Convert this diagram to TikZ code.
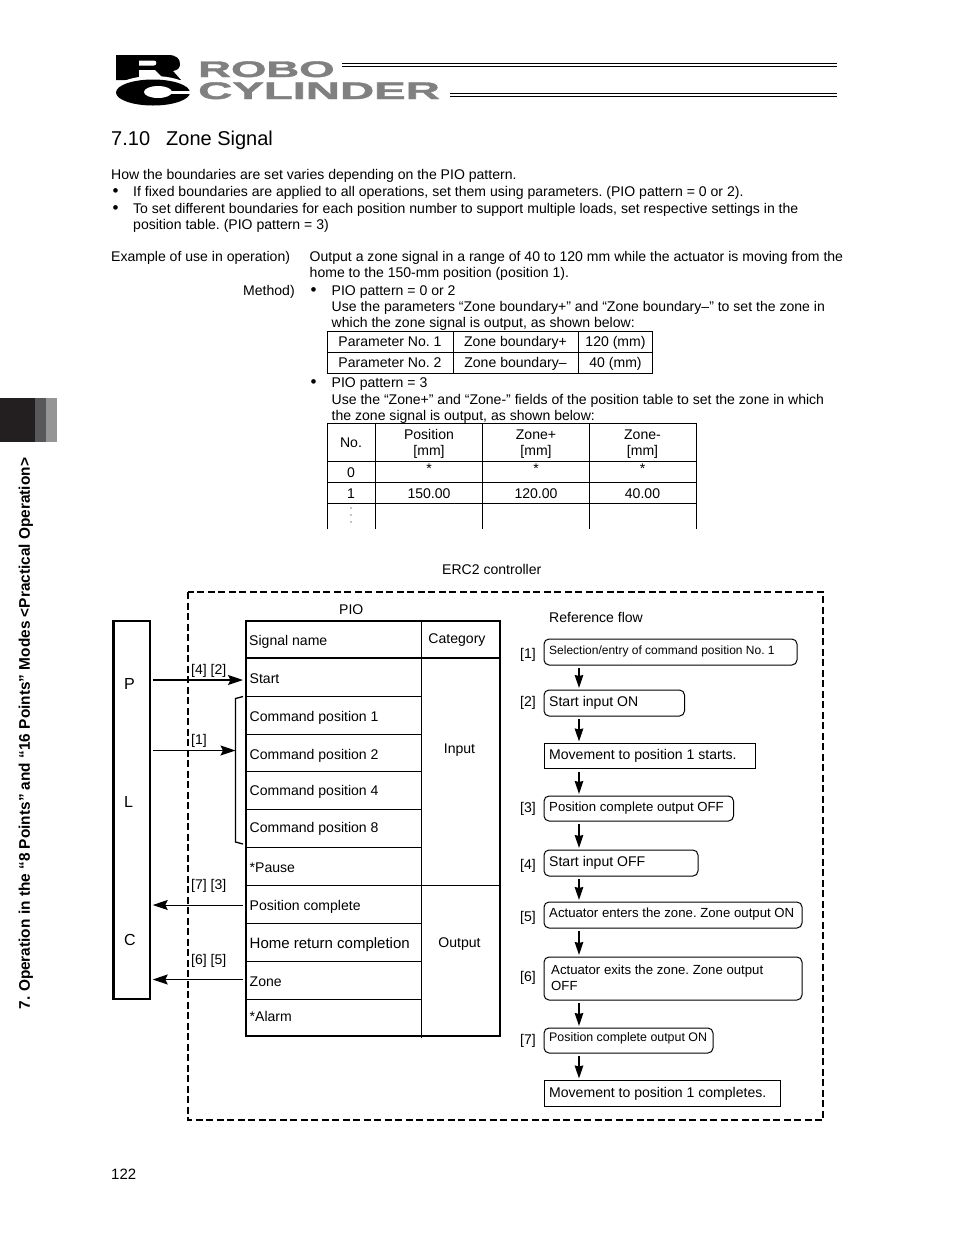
\documentclass[tikz,border=0pt]{standalone}
\usepackage{fontspec}
\setmainfont{Liberation Sans}
\newfontfamily\logoF[BoldFeatures={FakeBold=1.5}]{Liberation Sans}
\usetikzlibrary{arrows.meta,calc}
\frenchspacing
\definecolor{tabA}{HTML}{231F20}
\definecolor{tabB}{HTML}{58585A}
\definecolor{tabC}{HTML}{959595}
\definecolor{logoG}{HTML}{808080}
\newcommand{\fsz}[1]{\fontsize{#1}{#1}\selectfont}
\tikzset{
  txt/.style={anchor=base west,inner sep=0pt,font=\fsz{14.05}},
  ctr/.style={anchor=base,inner sep=0pt,font=\fsz{14.05}},
  cell/.style={draw=black,line width=1pt,inner sep=0pt},
  flowbox/.style={draw=black,line width=1pt,rounded corners=5pt,inner sep=0pt},
  flowrect/.style={draw=black,line width=1pt,inner sep=0pt},
  rule/.style={line width=1pt,black},
  thick rule/.style={line width=2pt,black},
  flowarrow/.style={line width=1.6pt,black,-{Stealth[length=13pt,width=8.5pt,inset=1pt]}},
  sigin/.style={line width=1.6pt,black,-{Stealth[length=15pt,width=10pt,inset=2.5pt]}},
  sigout/.style={line width=1pt,black,-{Stealth[length=15pt,width=10pt,inset=2.5pt]}}
}
\newcommand{\tx}[4]{\node[txt] (#1) at (#2,#3) {#4};}
\newcommand{\tc}[4]{\node[ctr] (#1) at (#2,#3) {#4};}
\newcommand{\cl}[5]{\node[cell,minimum width=#4pt,minimum height=#5pt] (#1) at (#2,#3) {};}
\begin{document}
\begin{tikzpicture}[x=1pt,y=-1pt]
\useasboundingbox (0,0) rectangle (954,1235);
\fill[white] (0,0) rectangle (954,1235);
% side tab
\fill[tabA] (0,398) rectangle (35,442);
\fill[tabB] (35,398) rectangle (46,442);
\fill[tabC] (46,398) rectangle (57,442);
\node[rotate=90,inner sep=0pt,font=\fsz{15.4}\bfseries] (sidetitle) at (26,733.5) {7. Operation in the “8 Points” and “16 Points” Modes <Practical Operation>};
% logo mark
\fill[black] (116,55) -- (168,55) .. controls (177,55) and (180,59) .. (180,64) .. controls (180,68) and (178,70) .. (173,71) -- (181,80) -- (116,80) -- cycle;
\fill[white] (139,60.5) -- (154,60.5) .. controls (157,60.5) and (157,65.5) .. (154,65.5) -- (139,65.5) -- cycle;
\fill[white] (139,70) -- (155,70) -- (165,80) -- (139,80) -- cycle;
\fill[white] (153,92) ellipse [x radius=40,y radius=16];
\fill[black] (153,92.5) ellipse [x radius=37,y radius=13];
\fill[white] (158,92) ellipse [x radius=14,y radius=6];
\fill[white] (164,90.5) rectangle (192,93.5);
% logo text
\node[anchor=base west,inner sep=0pt,text=logoG,font=\logoF\bfseries\fsz{22.5}] (robo) at (198,77) {\scalebox{2.02}[1]{ROBO}};
\node[anchor=base west,inner sep=0pt,text=logoG,font=\logoF\bfseries\fsz{24}] (cyl) at (198,99) {\scalebox{1.97}[1]{CYLINDER}};
\draw[line width=1pt] (342,63.5) -- (837,63.5);
\draw[line width=1.6pt] (342,66.5) -- (837,66.5);
\draw[line width=1pt] (450,93) -- (837,93);
\draw[line width=1.6pt] (450,96.5) -- (837,96.5);
% heading and body
\node[txt,font=\fsz{20}] (h1) at (111,145) {7.10};
\node[txt,font=\fsz{20}] (h2) at (166,145) {Zone Signal};
\tx{b1}{111}{179}{How the boundaries are set varies depending on the PIO pattern.}
\node[txt,font=\fsz{17}] (b2d) at (112.5,196.5) {•};
\tx{b2}{133}{196}{If fixed boundaries are applied to all operations, set them using parameters. (PIO pattern = 0 or 2).}
\node[txt,font=\fsz{17}] (b3d) at (112.5,213.5) {•};
\tx{b3}{133}{213}{To set different boundaries for each position number to support multiple loads, set respective settings in the}
\tx{b4}{133}{229}{position table. (PIO pattern = 3)}
\tx{e1}{111}{261}{Example of use in operation)}
\tx{e2}{309.5}{261}{Output a zone signal in a range of 40 to 120 mm while the actuator is moving from the}
\tx{e3}{309.5}{277}{home to the 150-mm position (position 1).}
\tx{m0}{243}{295}{Method)}
\node[txt,font=\fsz{17}] (m1d) at (310.5,295.5) {•};
\tx{m1}{331.5}{295}{PIO pattern = 0 or 2}
\tx{m2}{331.5}{311}{Use the parameters “Zone boundary+” and “Zone boundary–” to set the zone in}
\tx{m3}{331.5}{327}{which the zone signal is output, as shown below:}
\node[txt,font=\fsz{17}] (m4d) at (310.5,387.5) {•};
\tx{m4}{331.5}{387}{PIO pattern = 3}
\tx{m5}{331.5}{404}{Use the “Zone+” and “Zone-” fields of the position table to set the zone in which}
\tx{m6}{331.5}{420}{the zone signal is output, as shown below:}
% table 1
\cl{ta1}{390.5}{341.75}{126}{20.5}
\cl{ta2}{515.75}{341.75}{124.5}{20.5}
\cl{ta3}{615.25}{341.75}{74.5}{20.5}
\cl{tb1}{390.5}{362.5}{126}{21}
\cl{tb2}{515.75}{362.5}{124.5}{21}
\cl{tb3}{615.25}{362.5}{74.5}{21}
\tc{ta1t}{390}{346}{Parameter No. 1}
\tc{ta2t}{515.5}{346}{Zone boundary+}
\tc{ta3t}{615.5}{346}{120 (mm)}
\tc{tb1t}{390}{367}{Parameter No. 2}
\tc{tb2t}{515.5}{367}{Zone boundary–}
\tc{tb3t}{615.5}{367}{40 (mm)}
% table 2
\draw[rule] (327.5,529) -- (327.5,423.5) -- (696.5,423.5) -- (696.5,529);
\draw[rule] (375,423.5) -- (375,529);
\draw[rule] (482.5,423.5) -- (482.5,529);
\draw[rule] (589,423.5) -- (589,529);
\draw[rule] (327.5,461) -- (696.5,461);
\draw[rule] (327.5,482.5) -- (696.5,482.5);
\draw[rule] (327.5,503.5) -- (696.5,503.5);
\tc{h20}{351}{447}{No.}
\tc{h21}{429}{439}{Position}
\tc{h21b}{429}{455}{[mm]}
\tc{h22}{536}{439}{Zone+}
\tc{h22b}{536}{455}{[mm]}
\tc{h23}{642.5}{439}{Zone-}
\tc{h23b}{642.5}{455}{[mm]}
\tc{r00}{351}{477}{0}
\tc{r01}{429}{473}{*}
\tc{r02}{536}{473}{*}
\tc{r03}{642.5}{473}{*}
\tc{r10}{351}{498}{1}
\tc{r11}{429}{498}{150.00}
\tc{r12}{536}{498}{120.00}
\tc{r13}{642.5}{498}{40.00}
\fill[black] (351,508) circle (0.55) (351,515) circle (0.55) (351,522) circle (0.55);
\tx{erc}{442}{574}{ERC2 controller}
% dashed enclosure
\draw[line width=2pt,dash pattern=on 7pt off 3.5pt] (188,592) rectangle (823,1120);
% PLC
\node[draw=black,line width=2.5pt,minimum width=36.5pt,minimum height=378pt,inner sep=0pt] (plc) at (131.75,810) {};
\node[txt,font=\fsz{16}] (plcP) at (124,689) {P};
\node[txt,font=\fsz{16}] (plcL) at (124,807) {L};
\node[txt,font=\fsz{16}] (plcC) at (124,945) {C};
% signal table
\tx{piot}{339}{614}{PIO}
\cl{c0}{333.75}{639.5}{175.5}{37}
\cl{c1}{333.75}{677.25}{175.5}{38.5}
\cl{c2}{333.75}{715.5}{175.5}{38}
\cl{c3}{333.75}{753}{175.5}{37}
\cl{c4}{333.75}{790.5}{175.5}{38}
\cl{c5}{333.75}{828.5}{175.5}{38}
\cl{c6}{333.75}{866.5}{175.5}{38}
\cl{c7}{333.75}{904.25}{175.5}{37.5}
\cl{c8}{333.75}{942}{175.5}{38}
\cl{c9}{333.75}{980}{175.5}{38}
\cl{c10}{333.75}{1017.5}{175.5}{37}
\cl{cat}{460.75}{639.5}{78.5}{37}
\cl{catin}{460.75}{771.75}{78.5}{227.5}
\cl{catout}{460.75}{960.75}{78.5}{150.5}
\draw[thick rule] (246,1036) -- (246,621) -- (500,621) -- (500,1036) -- cycle;
\draw[thick rule] (246,658) -- (500,658);
\draw[rule] (421.5,1036) -- (421.5,1038);
\tx{s0}{249}{645}{Signal name}
\tx{s1}{249.5}{683}{Start}
\tx{s2}{249.5}{721}{Command position 1}
\tx{s3}{249.5}{759.5}{Command position 2}
\tx{s4}{249.5}{795}{Command position 4}
\tx{s5}{249.5}{832}{Command position 8}
\tx{s6}{249.5}{872}{*Pause}
\tx{s7}{249.5}{910}{Position complete}
\node[txt,font=\fsz{15}] (s8) at (249.5,948) {Home return completion};
\tx{s9}{249.5}{986}{Zone}
\tx{s10}{249.5}{1021}{*Alarm}
\tc{catt}{457}{643}{Category}
\tc{inp}{459.5}{753}{Input}
\tc{outp}{459.5}{947}{Output}
% PLC signals
\coordinate (br) at (235.5,750.5);
\draw[line width=1.3pt] (243,696.5) -- (235.5,698.5) -- (235.5,842) -- (243,844);
\coordinate (start) at (243,680);
\draw[sigin] ([xshift=1.5pt]plc.east |- start) -- (start);
\draw[sigin] ([xshift=1.5pt]plc.east |- br) -- (br);
\coordinate (pc) at (243,905);
\coordinate (zn) at (243,979.5);
\draw[sigout] (pc) -- ([xshift=1.5pt]plc.east |- pc);
\draw[sigout] (zn) -- ([xshift=1.5pt]plc.east |- zn);
\tx{l42}{191}{674}{[4] [2]}
\tx{l1}{191}{744}{[1]}
\tx{l73}{191}{889}{[7] [3]}
\tx{l65}{191}{964}{[6] [5]}
% flow
\tx{rf}{549}{622}{Reference flow}
\coordinate (fx) at (579,0);
\node[flowbox,minimum width=253pt,minimum height=26pt] (f1) at (670.5,652) {};
\node[flowbox,minimum width=140.5pt,minimum height=26pt] (f2) at (614.25,703) {};
\node[flowrect,minimum width=211pt,minimum height=25pt] (f3) at (650,756) {};
\node[flowbox,minimum width=189.5pt,minimum height=25pt] (f4) at (638.75,808.5) {};
\node[flowbox,minimum width=154pt,minimum height=26pt] (f5) at (621,863) {};
\node[flowbox,minimum width=258pt,minimum height=26pt] (f6) at (673,915) {};
\node[flowbox,minimum width=258pt,minimum height=43pt] (f7) at (673,978.5) {};
\node[flowbox,minimum width=169pt,minimum height=25pt] (f8) at (628.5,1040.5) {};
\node[flowrect,minimum width=235.5pt,minimum height=25.5pt] (f9) at (662.25,1093.25) {};
\foreach \a/\b in {f1/f2,f2/f3,f3/f4,f4/f5,f5/f6,f6/f7,f7/f8,f8/f9}{
  \draw[flowarrow] ([yshift=-2.5pt]\a.south -| fx) -- ([yshift=1.5pt]\b.north -| fx);
}
\node[txt,font=\fsz{12}] (ft1) at (549,654) {Selection/entry of command position No. 1};
\tx{ft2}{549}{706}{Start input ON}
\tx{ft3}{549}{759}{Movement to position 1 starts.}
\node[txt,font=\fsz{13.2}] (ft4) at (549,811.5) {Position complete output OFF};
\tx{ft5}{549}{866}{Start input OFF}
\node[txt,font=\fsz{13.2}] (ft6) at (549,917) {Actuator enters the zone. Zone output ON};
\node[txt,font=\fsz{13.2}] (ft7) at (551,974) {Actuator exits the zone. Zone output};
\node[txt,font=\fsz{13.2}] (ft7b) at (551,990) {OFF};
\node[txt,font=\fsz{12.4}] (ft8) at (549,1041) {Position complete output ON};
\tx{ft9}{549}{1097}{Movement to position 1 completes.}
\tx{n1}{520}{658}{[1]}
\tx{n2}{520}{706}{[2]}
\tx{n3}{520}{812}{[3]}
\tx{n4}{520}{869}{[4]}
\tx{n5}{520}{921}{[5]}
\tx{n6}{520}{981}{[6]}
\tx{n7}{520}{1044}{[7]}
\node[txt,font=\fsz{15}] (pg) at (111,1179.5) {122};
\end{tikzpicture}
\end{document}
